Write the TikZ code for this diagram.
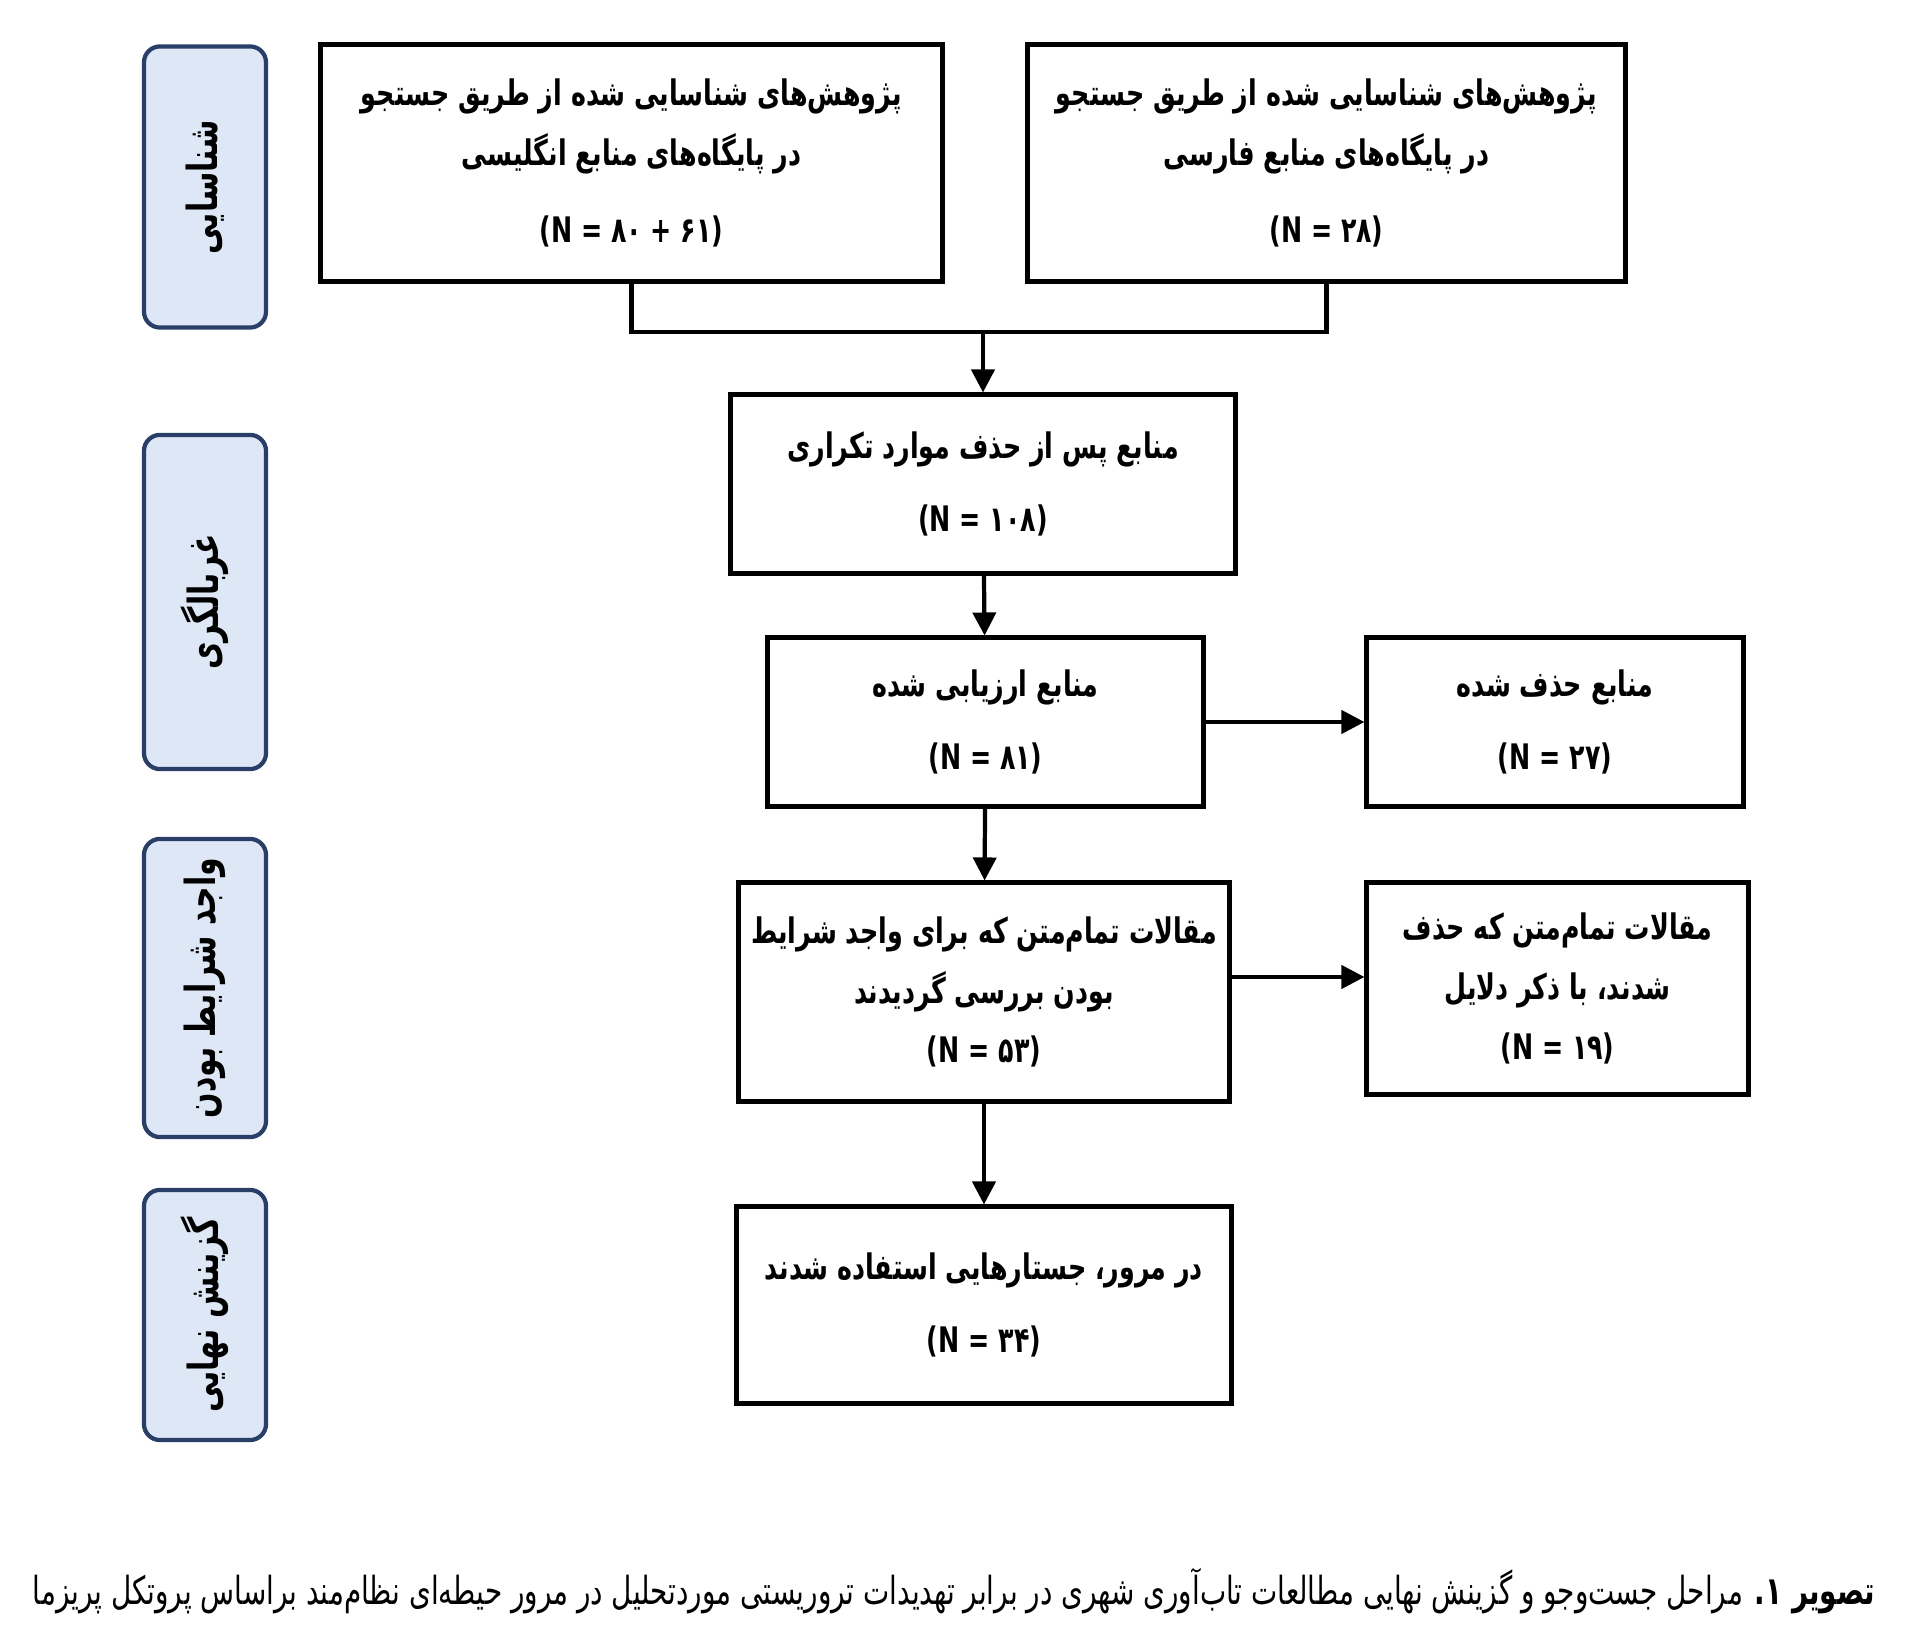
\documentclass[tikz,border=0pt]{standalone}
\usepackage{fontspec}
\usepackage{tikz}
\usetikzlibrary{arrows.meta}
\TeXXeTstate=1
\newfontfamily\persianfont[Script=Arabic,FakeStretch=0.72]{DejaVu Sans}
\newfontfamily\numfont[FakeStretch=0.72]{DejaVu Sans}
\newcommand{\rtline}[1]{\beginR #1\endR}
\newcommand{\nline}[1]{\beginR{\numfont\beginL #1\endL}\endR}
\definecolor{stagefill}{HTML}{DEE7F5}
\definecolor{stageline}{HTML}{2A3F68}

\begin{document}
\begin{tikzpicture}[x=0.01cm,y=-0.01cm,
  box/.style={draw,line width=1.4pt,align=center,inner sep=0pt,
    font=\persianfont\bfseries\fontsize{10}{17}\selectfont},
  stage/.style={draw=stageline,fill=stagefill,line width=1.2pt,
    rounded corners=0.16cm,rotate=90,minimum height=1.22cm,
    font=\persianfont\bfseries\fontsize{11.8}{13}\selectfont},
  arr/.style={line width=1.2pt,-{Triangle[width=0.23cm,length=0.23cm]}}]
\useasboundingbox (0,0) rectangle (1923,1631);
% stages
\node[stage,minimum width=2.81cm] (s1) at (205,187) {\rtline{شناسایی}};
\node[stage,minimum width=3.34cm] (s2) at (205,602) {\rtline{غربالگری}};
\node[stage,minimum width=2.98cm] (s3) at (205,988) {\rtline{واجد شرایط بودن}};
\node[stage,minimum width=2.50cm] (s4) at (205,1315) {\rtline{گزینش نهایی}};
% boxes
\node[box,minimum width=6.21cm,minimum height=2.36cm] (eng) at (631.5,163)
  {\rtline{پژوهش‌های شناسایی شده از طریق جستجو}\\
   \rtline{در پایگاه‌های منابع انگلیسی}\\[5pt] \nline{(N = ۸۰ + ۶۱)}};
\node[box,minimum width=5.97cm,minimum height=2.36cm] (fa) at (1326.5,163)
  {\rtline{پژوهش‌های شناسایی شده از طریق جستجو}\\
   \rtline{در پایگاه‌های منابع فارسی}\\[5pt] \nline{(N = ۲۸)}};
\node[box,minimum width=5.04cm,minimum height=1.78cm] (dedup) at (983,484)
  {\rtline{منابع پس از حذف موارد تکراری}\\[4pt] \nline{(N = ۱۰۸)}};
\node[box,minimum width=4.35cm,minimum height=1.68cm] (screen) at (985.5,722)
  {\rtline{منابع ارزیابی شده}\\[4pt] \nline{(N = ۸۱)}};
\node[box,minimum width=3.76cm,minimum height=1.68cm] (removed) at (1555,722)
  {\rtline{منابع حذف شده}\\[4pt] \nline{(N = ۲۷)}};
\node[box,minimum width=4.90cm,minimum height=2.18cm] (fulltext) at (984,992)
  {\rtline{مقالات تمام‌متن که برای واجد شرایط}\\
   \rtline{بودن بررسی گردیدند}\\ \nline{(N = ۵۳)}};
\node[box,minimum width=3.81cm,minimum height=2.11cm] (excluded) at (1557.5,988.5)
  {\rtline{مقالات تمام‌متن که حذف}\\
   \rtline{شدند، با ذکر دلایل}\\ \nline{(N = ۱۹)}};
\node[box,minimum width=4.94cm,minimum height=1.96cm] (final) at (984,1305)
  {\rtline{در مرور، جستارهایی استفاده شدند}\\[4pt] \nline{(N = ۳۴)}};
% connectors
\coordinate (mrg) at (983,332);
\draw[line width=1.2pt] (eng.south) |- (mrg) -| (fa.south);
\draw[arr] (mrg) -- (dedup.north);
\draw[arr] (dedup) -- (screen);
\draw[arr] (screen) -- (removed);
\draw[arr] (screen) -- (fulltext);
\draw[arr] ([yshift=0.15cm]fulltext.east) -- ([yshift=0.15cm]fulltext.east -| excluded.west);
\draw[arr] (fulltext) -- (final);
% caption
\node[anchor=east,inner sep=0pt,font=\persianfont\fontsize{11}{13}\selectfont] (cap) at (1876,1591)
  {\rtline{\textbf{تصویر ۱.} مراحل جست‌وجو و گزینش نهایی مطالعات تاب‌آوری شهری در برابر تهدیدات تروریستی موردتحلیل در مرور حیطه‌ای نظام‌مند براساس پروتکل پریزما}};
\end{tikzpicture}
\end{document}
